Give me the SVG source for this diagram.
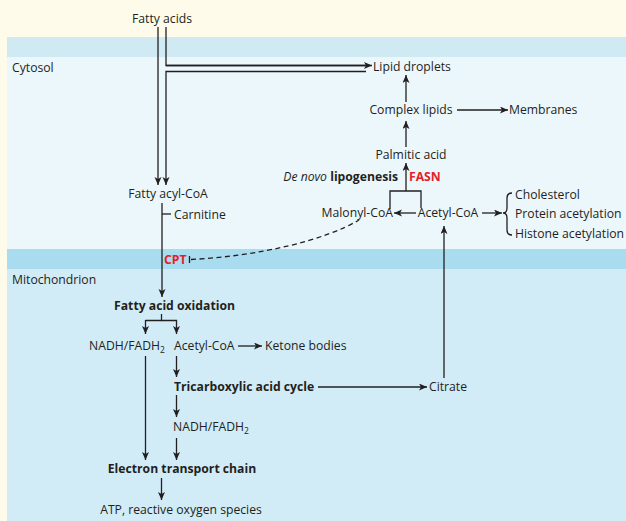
<svg xmlns="http://www.w3.org/2000/svg" width="626" height="521" viewBox="0 0 626 521">
<defs>
<marker id="ah" markerUnits="userSpaceOnUse" markerWidth="9" markerHeight="8" refX="8" refY="3.5" orient="auto">
<path d="M0,0 L8,3.5 L0,7 L2,3.5 z" fill="#231f20"/>
</marker>
<style>
text{font-family:"Open Sans","Liberation Sans",sans-serif;font-size:12.2px;fill:#231f20}
.b{font-weight:bold}
.r{fill:#e32227;font-weight:bold}
.ln{fill:none;stroke:#231f20;stroke-width:1.3}
.ar{fill:none;stroke:#231f20;stroke-width:1.3;marker-end:url(#ah)}
.m{text-anchor:middle}
.e{text-anchor:end}
</style>
</defs>
<rect width="626" height="521" fill="#fffbea"/>
<g id="compartments">
<rect x="7" y="37" width="619" height="20" fill="#d0eaf4"/>
<rect x="7" y="57" width="619" height="192" fill="#ecf7fc"/>
<rect x="7" y="249" width="619" height="20" fill="#a8dcee"/>
<rect x="7" y="269" width="619" height="252" fill="#d1ecf7"/>
<text x="12" y="72">Cytosol</text>
<text x="12" y="284">Mitochondrion</text>
</g>
<g id="connectors">
<path class="ar" d="M158,27 V185"/>
<path class="ln" d="M166,27 V65.5 H366"/>
<path class="ar" d="M166,65.5 H372"/>
<path class="ar" d="M366,71.5 H166 V185"/>
<path class="ar" d="M406,102 V75"/>
<path class="ar" d="M406,147 V121"/>
<path class="ar" d="M457,110 H508"/>
<path class="ar" d="M406,191 V163"/>
<path class="ln" d="M390,209 V191 H421 V208"/>
<path class="ar" d="M416,213 H394"/>
<path class="ar" d="M482,213 H502"/>
<path class="ln" d="M512,193 Q507,193 507,198 V208 Q507,213 503,213 Q507,213 507,218 V230 Q507,235 512,235"/>
<path class="ar" d="M444,378 V226"/>
<path class="ar" d="M318,387 H427"/>
<path class="ar" d="M162,203 V297"/>
<path class="ln" d="M162,214 H171"/>
<path class="ln" d="M189.5,256 V263"/>
<path class="ln" d="M191,259.5 C260,256 325,240 359,220" stroke-dasharray="5,3.5"/>
<path class="ln" d="M161.5,314 V320.5 H145.5"/>
<path class="ar" d="M145.5,320 V334"/>
<path class="ar" d="M161.5,320.5 H176.5 V334"/>
<path class="ar" d="M238,346 H262"/>
<path class="ar" d="M176.5,356 V377"/>
<path class="ar" d="M176.5,395 V417"/>
<path class="ar" d="M176.5,438 V460"/>
<path class="ar" d="M145.5,356 V460"/>
<path class="ar" d="M161.5,478 V500"/>
</g>
<g id="n-fatty-acids"><text x="162" y="23" class="m">Fatty acids</text></g>
<g id="n-lipid-droplets"><text x="373" y="71">Lipid droplets</text></g>
<g id="n-complex-lipids"><text x="411" y="114" class="m">Complex lipids</text></g>
<g id="n-membranes"><text x="509" y="114">Membranes</text></g>
<g id="n-palmitic-acid"><text x="411" y="159" class="m">Palmitic acid</text></g>
<g id="n-lipogenesis"><text x="398" y="181" class="e"><tspan font-style="italic">De novo</tspan> <tspan class="b">lipogenesis</tspan></text><text x="409" y="181" class="r">FASN</text></g>
<g id="n-fatty-acyl-coa"><text x="168" y="198" class="m">Fatty acyl-CoA</text></g>
<g id="n-carnitine"><text x="174" y="219">Carnitine</text></g>
<g id="n-malonyl-coa"><text x="393" y="217" class="e">Malonyl-CoA</text></g>
<g id="n-acetyl-coa-cyto"><text x="448" y="217" class="m">Acetyl-CoA</text></g>
<g id="n-fates"><text x="515" y="199">Cholesterol</text><text x="515" y="218">Protein acetylation</text><text x="515" y="238">Histone acetylation</text></g>
<g id="n-cpt"><text x="164" y="264" class="r">CPT</text></g>
<g id="n-fao"><text x="174.5" y="310" class="m b">Fatty acid oxidation</text></g>
<g id="n-nadh1"><text x="89" y="350">NADH/FADH<tspan font-size="8.5" dy="3">2</tspan></text></g>
<g id="n-acetyl-coa-mito"><text x="174" y="350">Acetyl-CoA</text></g>
<g id="n-ketone"><text x="265" y="350">Ketone bodies</text></g>
<g id="n-tca"><text x="174" y="391" class="b">Tricarboxylic acid cycle</text></g>
<g id="n-citrate"><text x="429" y="391">Citrate</text></g>
<g id="n-nadh2"><text x="173" y="431">NADH/FADH<tspan font-size="8.5" dy="3">2</tspan></text></g>
<g id="n-etc"><text x="182" y="473" class="m b">Electron transport chain</text></g>
<g id="n-atp"><text x="181" y="514" class="m">ATP, reactive oxygen species</text></g>
</svg>
